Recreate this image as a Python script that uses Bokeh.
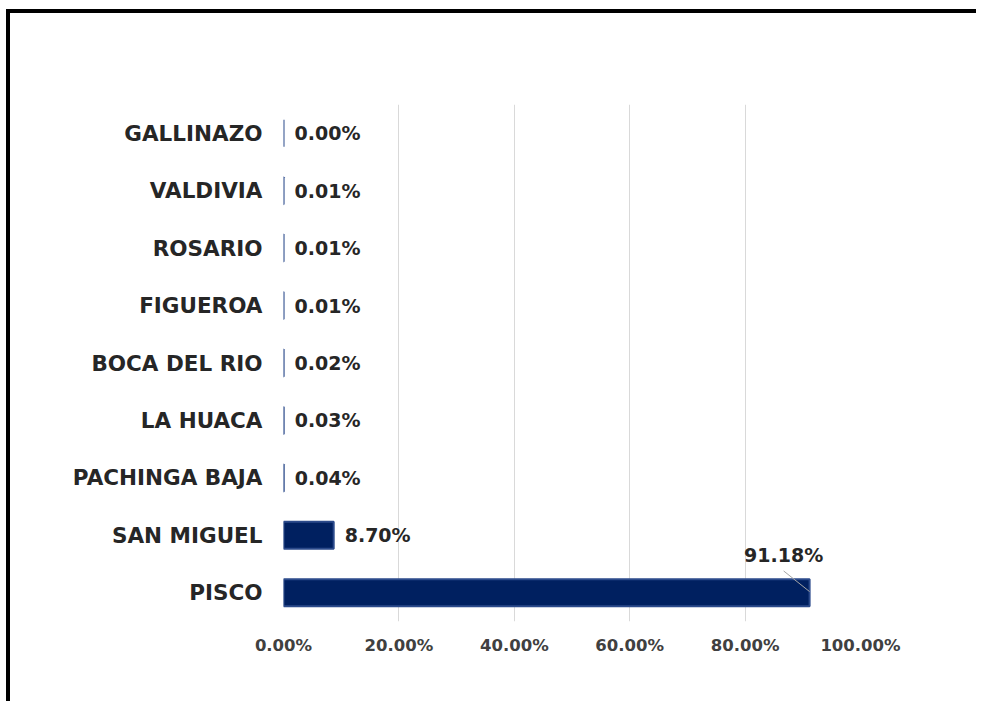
from bokeh.plotting import figure
from bokeh.models import ColumnDataSource, Range1d, FixedTicker
from bokeh.core.properties import value
from bokeh.embed import file_html
from bokeh.resources import INLINE

# ---- data ----
categories = ["PISCO", "SAN MIGUEL", "PACHINGA BAJA", "LA HUACA", "BOCA DEL RIO",
              "FIGUEROA", "ROSARIO", "VALDIVIA", "GALLINAZO"]
shares = [91.18, 8.70, 0.04, 0.03, 0.02, 0.01, 0.01, 0.01, 0.00]
x_ticks = [0, 20, 40, 60, 80, 100]
x_tick_labels = ["0.00%", "20.00%", "40.00%", "60.00%", "80.00%", "100.00%"]

FONT = "DejaVu Sans"
NAVY = "#002060"

ypos = list(range(len(categories)))
labels = [f"{v:.2f}%" for v in shares]

p = figure(width=970, height=692, output_backend="svg", toolbar_location=None,
           x_range=Range1d(0, 100), y_range=Range1d(-0.5, len(categories) - 0.5),
           min_border_left=273, min_border_right=120, min_border_top=91,
           min_border_bottom=84)
p.styles = {"border-top": "4px solid black", "border-left": "4px solid black",
            "margin-top": "9px", "margin-left": "6px"}
p.outline_line_color = None
p.background_fill_color = "white"
p.border_fill_color = "white"

src = ColumnDataSource(dict(y=ypos, v=shares, lab=labels, cat=categories))
p.hbar(y="y", left=0, right="v", height=0.47, source=src,
       fill_color=NAVY, line_color="#2B4A8B", line_width=2)

# value labels (all but the largest, which sits above its bar)
big = shares.index(max(shares))
side = ColumnDataSource(dict(y=[y for i, y in enumerate(ypos) if i != big],
                             v=[s for i, s in enumerate(shares) if i != big],
                             lab=[l for i, l in enumerate(labels) if i != big]))
p.text(x="v", y="y", text="lab", source=side, x_offset=11,
       text_baseline="middle", text_align="left",
       text_font=value(FONT), text_font_style="bold", text_font_size="19px",
       text_color="#262626")

bv = shares[big]
by = ypos[big]
p.segment(x0=[bv - 4.5], y0=[by + 0.38], x1=[bv], y1=[by + 0.02],
          line_color="#a6a6a6", line_width=1)
p.text(x=[bv - 4.5], y=[by + 0.38], text=[labels[big]], y_offset=-5,
       text_baseline="bottom", text_align="center",
       text_font=value(FONT), text_font_style="bold", text_font_size="19px",
       text_color="#262626")

# axes
p.xaxis.ticker = FixedTicker(ticks=x_ticks)
p.xaxis.major_label_overrides = {t: l for t, l in zip(x_ticks, x_tick_labels)}
p.xaxis.axis_line_color = None
p.xaxis.major_tick_line_color = None
p.xaxis.minor_tick_line_color = None
p.xaxis.major_label_standoff = 8
p.xaxis.major_label_text_font = FONT
p.xaxis.major_label_text_font_style = "bold"
p.xaxis.major_label_text_font_size = "16.5px"
p.xaxis.major_label_text_color = "#404040"

p.yaxis.ticker = FixedTicker(ticks=ypos)
p.yaxis.major_label_overrides = {y: c for y, c in zip(ypos, categories)}
p.yaxis.axis_line_color = None
p.yaxis.major_tick_line_color = None
p.yaxis.minor_tick_line_color = None
p.yaxis.major_label_standoff = 15
p.yaxis.major_label_text_font = FONT
p.yaxis.major_label_text_font_style = "bold"
p.yaxis.major_label_text_font_size = "21.5px"
p.yaxis.major_label_text_color = "#262626"

p.xgrid.ticker = FixedTicker(ticks=x_ticks)
p.xgrid.grid_line_color = "#d9d9d9"
p.xgrid.grid_line_width = 1
p.ygrid.grid_line_color = None

open("out.html", "w").write(file_html(p, INLINE))
